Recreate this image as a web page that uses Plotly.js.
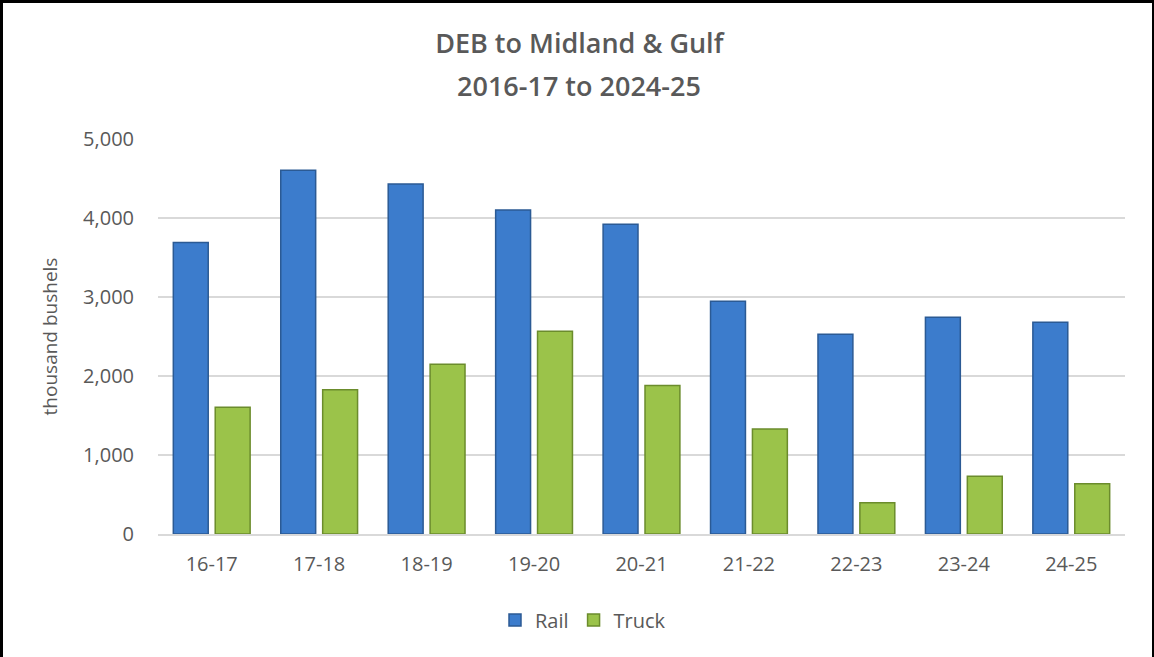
<!DOCTYPE html>
<html>
<head>
<meta charset="utf-8">
<script src="https://cdn.plot.ly/plotly-3.0.1.min.js"></script>
<style>
  html, body { margin: 0; padding: 0; background: #fff; }
  #wrap { position: relative; width: 1154px; height: 657px; }
  #chart { position: absolute; left: 0; top: 0; width: 1154px; height: 657px; }
  #frame { position: absolute; left: 0; top: 0; width: 1154px; height: 657px; box-sizing: border-box; border: 0 solid #000; border-top-width: 3px; border-left-width: 3px; border-right-width: 2px; pointer-events: none; }
</style>
</head>
<body>
<div id="wrap"><div id="chart"></div><div id="frame"></div></div>
<script>
const categories = ["16-17", "17-18", "18-19", "19-20", "20-21", "21-22", "22-23", "23-24", "24-25"];
const railValues = [3690, 4605, 4430, 4100, 3920, 2945, 2530, 2745, 2680];
const truckValues = [1605, 1825, 2150, 2565, 1880, 1330, 395, 730, 635];
const yTickValues = [0, 1000, 2000, 3000, 4000, 5000];
const yTickLabels = ["0", "1,000", "2,000", "3,000", "4,000", "5,000"];
const titleLine1 = "DEB to Midland & Gulf";
const titleLine2 = "2016-17 to 2024-25";

const font = "'Open Sans', Lato, sans-serif";
const traces = [
  { type: "bar", name: "Rail", x: categories, y: railValues,
    marker: { color: "#3c7ccc", line: { color: "#2b5a94", width: 1.5 } } },
  { type: "bar", name: "Truck", x: categories, y: truckValues,
    marker: { color: "#9bc34a", line: { color: "#6b8c2c", width: 1.5 } } }
];
const layout = {
  width: 1154, height: 657,
  margin: { l: 158, r: 29, t: 139, b: 123 },
  paper_bgcolor: "#fff", plot_bgcolor: "#fff",
  font: { family: font, color: "#595959" },
  title: { text: titleLine1, xref: "container", x: 0.502, xanchor: "center", yref: "container", y: 1 - 44 / 657, yanchor: "middle",
           font: { family: font, size: 27, weight: 600, color: "#595959" } },
  annotations: [
    { text: titleLine2, xref: "paper", x: (579 - 158) / 967, xanchor: "center", yref: "paper", y: (534 - 86) / 395, yanchor: "middle",
      showarrow: false, font: { family: font, size: 27, weight: 600, color: "#595959" } }
  ],
  barmode: "group", bargap: 0.22, bargroupgap: 0.167,
  xaxis: { type: "category", tickfont: { size: 20, color: "#595959" }, showgrid: false, showline: true,
           linecolor: "#d9d9d9", linewidth: 1.5, ticks: "outside", ticklen: 11, tickcolor: "rgba(0,0,0,0)", automargin: false },
  yaxis: { range: [0, 5000], tickvals: yTickValues, ticktext: yTickLabels, tickfont: { size: 20, color: "#595959" },
           showgrid: true, gridcolor: "#d9d9d9", gridwidth: 1.5, zeroline: false, showline: false, ticks: "outside",
           ticklen: 19, tickcolor: "rgba(0,0,0,0)", automargin: false,
           title: { text: "thousand bushels", font: { size: 19, color: "#595959" }, standoff: 20 } },
  legend: { orientation: "h", x: (583 - 158) / 967, xanchor: "center", y: -0.218, yanchor: "middle",
            font: { size: 20, color: "#595959" }, traceorder: "normal" },
  showlegend: true
};
Plotly.newPlot("chart", traces, layout, { displayModeBar: false, staticPlot: true });
</script>
</body>
</html>
